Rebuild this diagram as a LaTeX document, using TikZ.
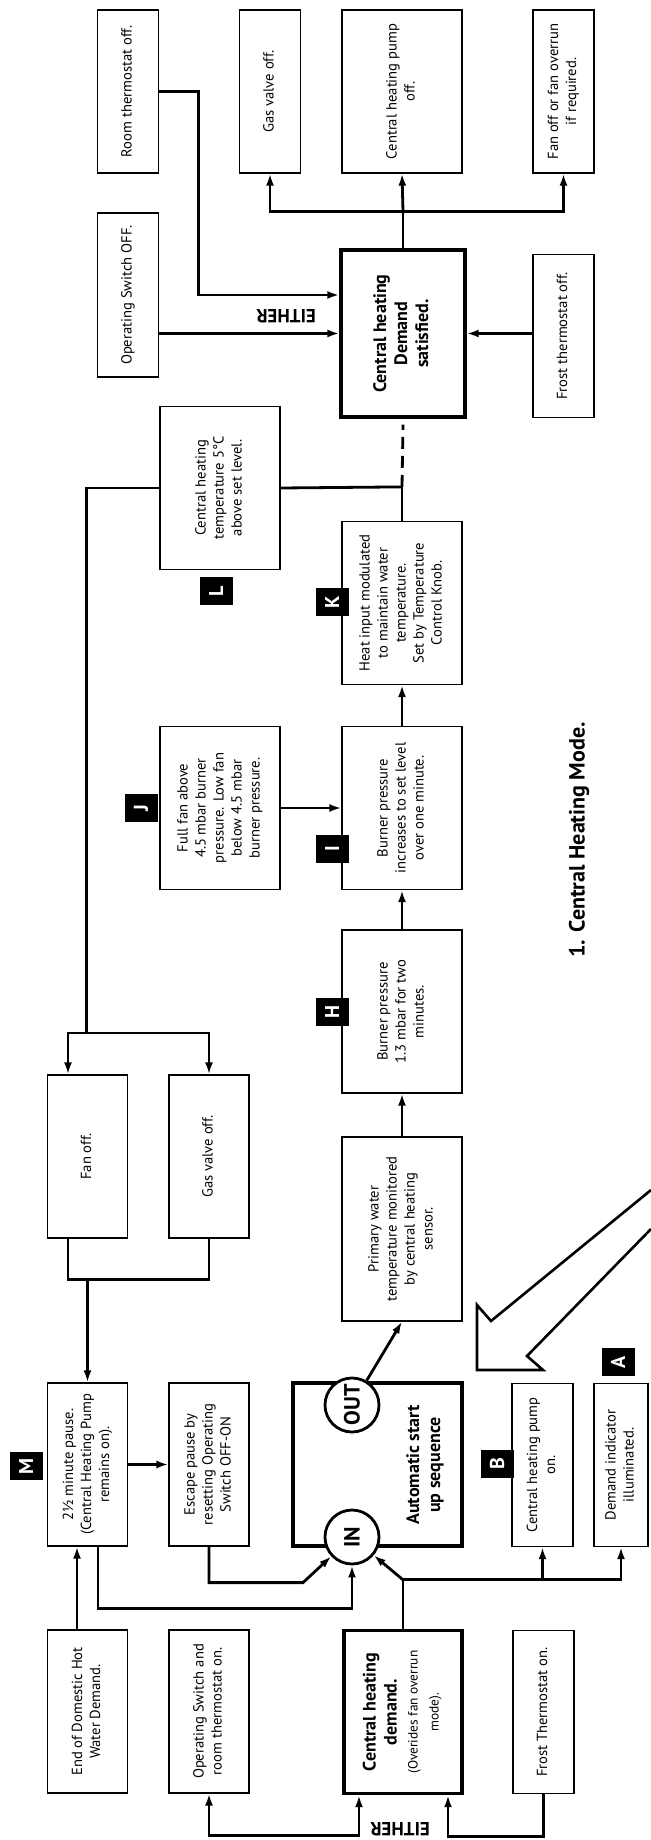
\documentclass[tikz,border=0pt]{standalone}
\usepackage{fontspec}
\usepackage{graphicx}
\setmainfont{PT Sans}
\usetikzlibrary{arrows.meta}
\newcommand{\vtxt}[1]{\rotatebox{90}{\begin{tabular}{@{}c@{}}#1\end{tabular}}}

\begin{document}
\begin{tikzpicture}[x=0.5pt, y=-0.5pt,
  >={Latex[length=6pt, width=4pt]},
  box/.style={draw, line width=0.6pt, inner sep=0pt, minimum width=60pt,
    minimum height=81.5pt, font=\fontsize{7.3}{9}\selectfont},
  heavybox/.style={box, line width=1.7pt, font=\bfseries\fontsize{9}{10.5}\selectfont},
  narrow/.style={minimum width=30.5pt},
  mid/.style={minimum width=40pt},
  port/.style={circle, draw, line width=1.4pt, fill=white, minimum size=27pt,
    inner sep=0pt, font=\bfseries\fontsize{11}{11}\selectfont},
  tag/.style={fill=black, text=white, minimum width=16.5pt, minimum height=14pt,
    inner sep=0pt, font=\bfseries\fontsize{10}{10}\selectfont},
  line/.style={line width=1.4pt},
  flow/.style={line, ->},
  note/.style={font=\bfseries\fontsize{9.5}{10}\selectfont, rotate=180}]
  \useasboundingbox (0,0) rectangle (651,1840);

  % demand inputs
  \node[box, mid] (endhw) at (87.5,1711.5) {\vtxt{End of Domestic Hot\\Water Demand.}};
  \node[box, mid] (opon) at (209,1711.5) {\vtxt{Operating Switch and\\room thermostat on.}};
  \node[heavybox, minimum width=59pt] (chdemand) at (403,1712)
    {\vtxt{Central heating\\demand.\\{\mdseries\fontsize{6.7}{8}\selectfont (Overides fan overrun}\\{\mdseries\fontsize{6.7}{8}\selectfont mode).}}};
  \node[box, narrow] (froston) at (543.5,1712) {\vtxt{Frost Thermostat on.}};

  % start up
  \node[box, mid] (pause) at (87.5,1464.5) {\vtxt{2½ minute pause.\\(Central Heating Pump\\remains on).}};
  \node[box, mid] (escape) at (209,1464.5) {\vtxt{Escape pause by\\resetting Operating\\Switch OFF-ON}};
  \node[heavybox, minimum width=84.5pt] (auto) at (377.5,1464.5) {};
  \node[port] (inport) at (352,1537) {\rotatebox{90}{IN}};
  \node[port] (outport) at (352,1405) {\rotatebox{90}{OUT}};
  \node[rotate=90, align=center, font=\bfseries\fontsize{9}{10.5}\selectfont] (autotext)
    at (425,1465) {Automatic start\\up sequence};
  \node[box, narrow] (pumpon) at (542.5,1465) {\vtxt{Central heating pump\\on.}};
  \node[box, minimum width=27pt] (lamp) at (621,1465) {\vtxt{Demand indicator\\illuminated.}};

  % burner sequence
  \node[box, minimum height=92pt] (primary) at (402,1229)
    {\vtxt{Primary water\\temperature monitored\\by central heating\\sensor.}};
  \node[box] (burnlow) at (402,1011.5) {\vtxt{Burner pressure\\1.3 mbar for two\\minutes.}};
  \node[box] (burnramp) at (402,808) {\vtxt{Burner pressure\\increases to set level\\over one minute.}};
  \node[box] (fanspeed) at (220,808)
    {\vtxt{Full fan above\\4.5 mbar burner\\pressure. Low fan\\below 4.5 mbar\\burner pressure.}};
  \node[box] (modulate) at (402,603)
    {\vtxt{Heat input modulated\\to maintain water\\temperature.\\Set by Temperature\\Control Knob.}};
  \node[box] (overtemp) at (220,488) {\vtxt{Central heating\\temperature 5°C\\above set level.}};
  \node[box, mid] (fanoff) at (87.5,1156.5) {\vtxt{Fan off.}};
  \node[box, mid] (gasoff) at (209,1156.5) {\vtxt{Gas valve off.}};

  % demand satisfied
  \node[heavybox, minimum width=62pt, minimum height=83.5pt] (chsat) at (403,333.5)
    {\vtxt{Central heating\\Demand\\satisfied.}};
  \node[box, narrow, minimum height=82pt] (opoff) at (128,295) {\vtxt{Operating Switch OFF.}};
  \node[box, narrow] (frostoff) at (563.5,336) {\vtxt{Frost thermostat off.}};
  \node[box, narrow] (roomoff) at (128,91.5) {\vtxt{Room thermostat off.}};
  \node[box, narrow] (gasvalve) at (270,91.5) {\vtxt{Gas valve off.}};
  \node[box] (pumpoff) at (402,91.5) {\vtxt{Central heating pump\\off.}};
  \node[box, narrow] (fanrun) at (563.5,91.5) {\vtxt{Fan off or fan overrun\\if required.}};

  % letter tags
  \foreach \t/\px/\py in {M/26/1466, B/497/1464, A/618/1362, H/332/1012,
      I/332/849, J/141/808, K/332/602, L/216/591}
    \node[tag] (tag\t) at (\px,\py) {\rotatebox{90}{\t}};

  \node[rotate=90, font=\bfseries\fontsize{11}{11}\selectfont] (title) at (579,840)
    {1. Central Heating Mode.};
  \node[note] (either1) at (400,1829) {EITHER};
  \node[note] (either2) at (286,316) {EITHER};

  % connectors, start up
  \draw[line, <->] (opon.south) -- ++(0,42) -| ([xshift=-22pt]chdemand.south);
  \draw[flow] (froston.south) -- ++(0,42) -| ([xshift=22.5pt]chdemand.south);
  \draw[line] (chdemand.north) -- ++(0,-49) coordinate (fork);
  \draw[flow] (fork) -- (inport);
  \draw[flow] (fork) -| (lamp.south);
  \draw[flow] (fork -| pumpon.south) -- (pumpon.south);
  \draw[flow] (escape.south) -- ++(0,36) -- ++(94,0) -- (inport);
  \draw[flow] ([xshift=5.25pt]pause.south) -- ++(0,62) -| (inport.south);
  \draw[flow] (pause.east) -- (escape.west);
  \draw[flow] ([xshift=-5.25pt]endhw.north) -- ([xshift=-5.25pt]pause.south);
  \draw[flow] (outport) -- (primary.south);
  \draw[flow] (primary.north) -- (burnlow.south);
  \draw[flow] (burnlow.north) -- (burnramp.south);
  \draw[flow] (burnramp.north) -- (modulate.south);
  \draw[flow] (fanspeed.east) -- (burnramp.west);

  % over temperature loop
  \draw[line] (modulate.north) -- ++(0,-34) coordinate (lfork);
  \draw[line, dash pattern=on 6pt off 3.5pt] (lfork) -- ([yshift=-3pt]chsat.south);
  \draw[line] (lfork) -- (overtemp.east);
  \draw[line] (overtemp.west) -- ++(-73,0) -- ++(0,545) coordinate (fanfork);
  \draw[flow] (fanfork) -| ([xshift=-9.75pt]fanoff.north);
  \draw[flow] (fanfork) -| (gasoff.north);
  \draw[line] ([xshift=-9.75pt]fanoff.south) -- ++(0,41) coordinate (joinl) -| (gasoff.south);
  \draw[flow] (joinl -| pause.north) -- (pause.north);

  % demand satisfied
  \draw[flow] (opoff.east |- chsat.west) -- (chsat.west);
  \draw[flow] (frostoff.west |- chsat.east) -- (chsat.east);
  \draw[flow] (roomoff.east) -- ++(39,0) |- ([yshift=19.25pt]chsat.west);
  \draw[line] (chsat.north) -- ++(0,-37) coordinate (outfork);
  \draw[flow] (outfork) -- (pumpoff.south);
  \draw[flow] (outfork) -| (gasvalve.south);
  \draw[flow] (outfork) -| (fanrun.south);

  % hollow pointer
  \draw[line width=1.3pt, line join=miter] (651,1190) -- (491,1321) -- (477,1305) -- (477,1370)
    -- (543,1370) -- (527,1356) -- (651,1229);
\end{tikzpicture}
\end{document}
